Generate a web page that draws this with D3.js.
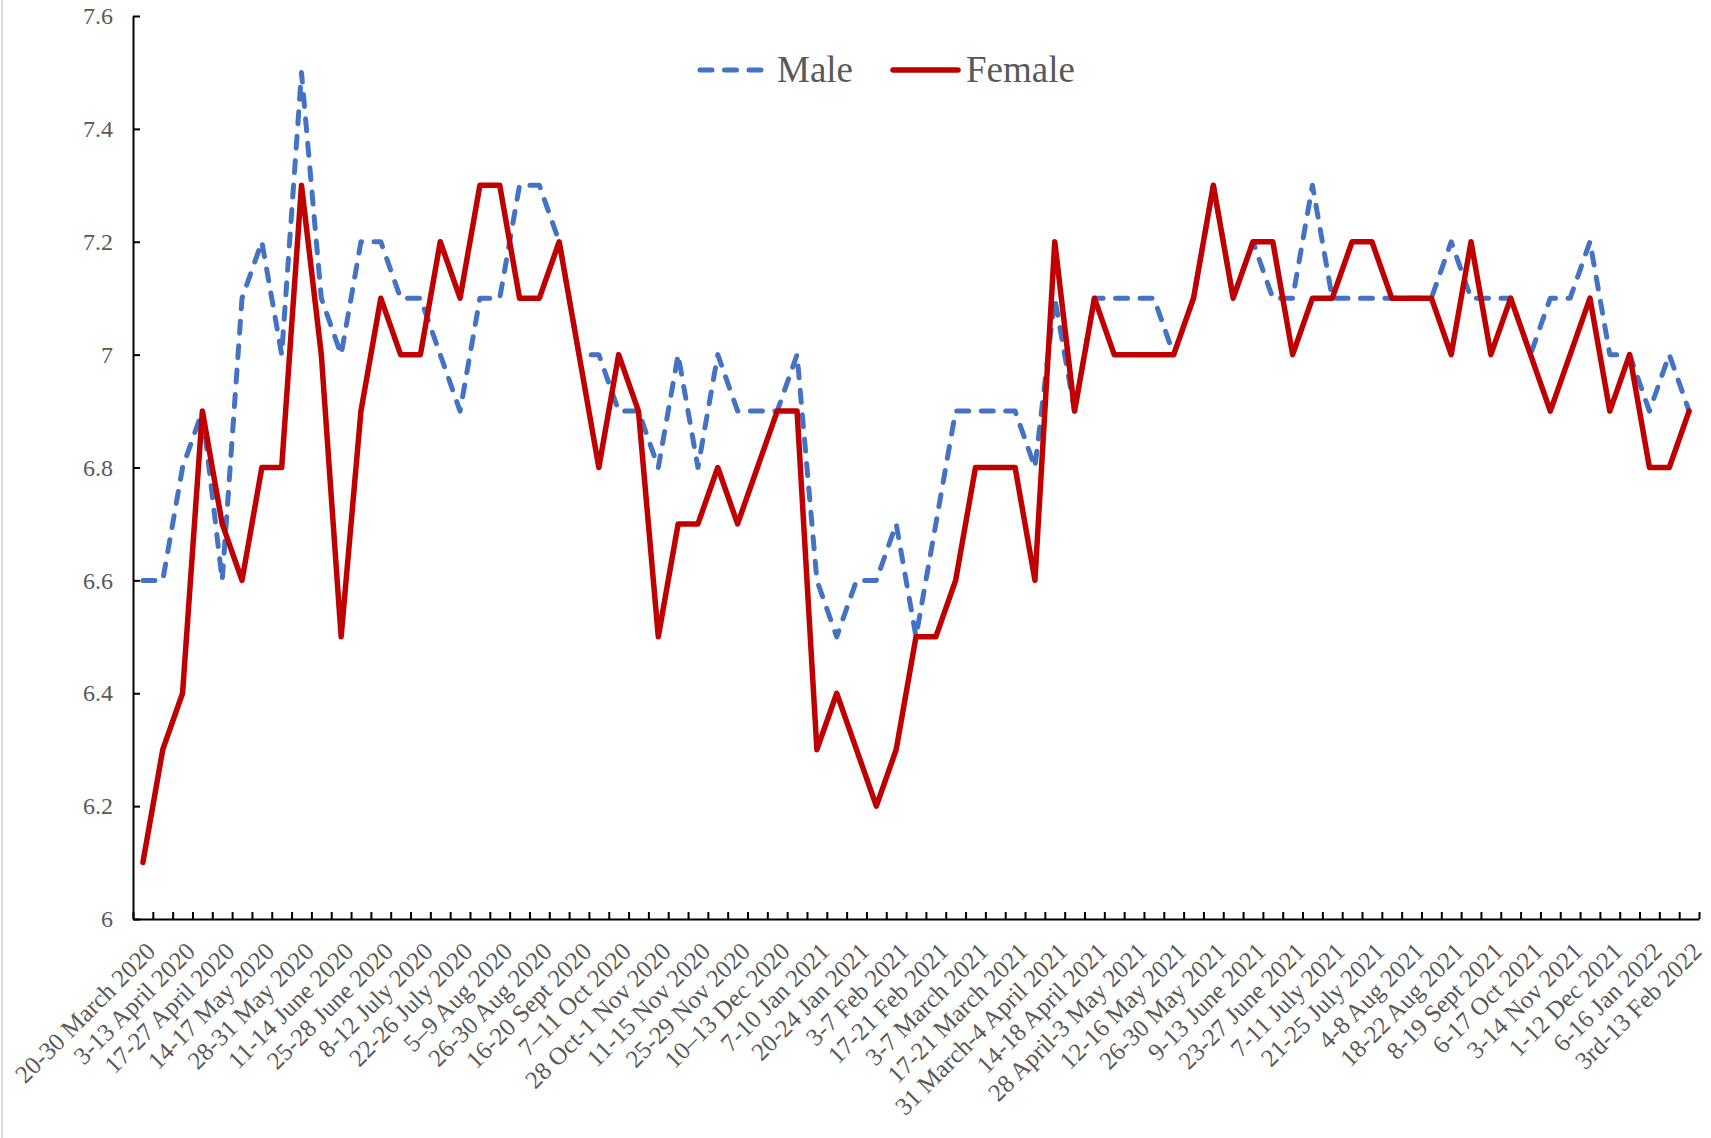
<!DOCTYPE html>
<html>
<head>
<meta charset="utf-8">
<script src="https://cdn.jsdelivr.net/npm/d3@7"></script>
<style>
  body { margin: 0; background: #fff; }
  svg { display: block; font-family: "Liberation Serif", "Times New Roman", serif; }
</style>
</head>
<body>
<svg id="chart"></svg>
<script>
// values, one per survey wave (79 waves)
const male = [
  6.6, 6.6, 6.8, 6.9, 6.6, 7.1, 7.2, 7.0, 7.5, 7.1, 7.0, 7.2, 7.2, 7.1, 7.1, 7.0,
  6.9, 7.1, 7.1, 7.3, 7.3, 7.2, 7.0, 7.0, 6.9, 6.9, 6.8, 7.0, 6.8, 7.0, 6.9, 6.9,
  6.9, 7.0, 6.6, 6.5, 6.6, 6.6, 6.7, 6.5, 6.7, 6.9, 6.9, 6.9, 6.9, 6.8, 7.1, 6.9,
  7.1, 7.1, 7.1, 7.1, 7.0, 7.1, 7.3, 7.1, 7.2, 7.1, 7.1, 7.3, 7.1, 7.1, 7.1, 7.1,
  7.1, 7.1, 7.2, 7.1, 7.1, 7.1, 7.0, 7.1, 7.1, 7.2, 7.0, 7.0, 6.9, 7.0, 6.9
];
const female = [
  6.1, 6.3, 6.4, 6.9, 6.7, 6.6, 6.8, 6.8, 7.3, 7.0, 6.5, 6.9, 7.1, 7.0, 7.0, 7.2,
  7.1, 7.3, 7.3, 7.1, 7.1, 7.2, 7.0, 6.8, 7.0, 6.9, 6.5, 6.7, 6.7, 6.8, 6.7, 6.8,
  6.9, 6.9, 6.3, 6.4, 6.3, 6.2, 6.3, 6.5, 6.5, 6.6, 6.8, 6.8, 6.8, 6.6, 7.2, 6.9,
  7.1, 7.0, 7.0, 7.0, 7.0, 7.1, 7.3, 7.1, 7.2, 7.2, 7.0, 7.1, 7.1, 7.2, 7.2, 7.1,
  7.1, 7.1, 7.0, 7.2, 7.0, 7.1, 7.0, 6.9, 7.0, 7.1, 6.9, 7.0, 6.8, 6.8, 6.9
];
// only every second wave carries a visible label
const tickLabels = [
  '20-30 March 2020', '3-13 April 2020', '17-27 April 2020', '14-17 May 2020',
  '28-31 May 2020', '11-14 June 2020', '25-28 June 2020', '8-12 July 2020',
  '22-26 July 2020', '5\u20139 Aug 2020', '26-30 Aug 2020', '16-20 Sept 2020',
  '7\u201311 Oct 2020', '28 Oct-1 Nov 2020', '11-15 Nov 2020', '25-29 Nov 2020',
  '10\u201313 Dec 2020', '7-10 Jan 2021', '20-24 Jan 2021', '3-7 Feb 2021',
  '17-21 Feb 2021', '3-7 March 2021', '17-21 March 2021', '31 March-4 April 2021',
  '14-18 April 2021', '28 April-3 May 2021', '12-16 May 2021', '26-30 May 2021',
  '9-13 June 2021', '23-27 June 2021', '7-11 July 2021', '21-25 July 2021',
  '4-8 Aug 2021', '18-22 Aug 2021', '8-19 Sept 2021', '6-17 Oct 2021',
  '3-14 Nov 2021', '1-12 Dec 2021', '6-16 Jan 2022', '3rd-13 Feb 2022'
];
const yTicks = [6, 6.2, 6.4, 6.6, 6.8, 7, 7.2, 7.4, 7.6];
const seriesNames = ['Male', 'Female'];

const width = 1711;
const height = 1138;
const plot = { left: 133, right: 1699, top: 16, bottom: 919 };
const textColor = '#595959';

const svg = d3.select('#chart')
  .attr('width', width)
  .attr('height', height);

// faint chart-area border on the left edge
svg.append('line')
  .attr('x1', 2).attr('x2', 2)
  .attr('y1', 0).attr('y2', height)
  .attr('stroke', '#d9d9d9')
  .attr('stroke-width', 2);

const waves = d3.range(male.length);

const x = d3.scaleBand()
  .domain(waves)
  .range([plot.left, plot.right]);

const xEdges = d3.scaleLinear()
  .domain([0, waves.length])
  .range([plot.left, plot.right]);

const y = d3.scaleLinear()
  .domain([6, 7.6])
  .range([plot.bottom, plot.top]);

const yAxis = svg.append('g')
  .attr('transform', `translate(${plot.left},0)`)
  .call(d3.axisLeft(y)
    .tickValues(yTicks)
    .tickSize(-7)
    .tickSizeOuter(0)
    .tickPadding(20)
    .tickFormat(d => String(d)));

const xAxis = svg.append('g')
  .attr('transform', `translate(0,${plot.bottom})`)
  .call(d3.axisBottom(xEdges)
    .tickValues(d3.range(waves.length + 1))
    .tickSize(-7)
    .tickSizeOuter(0)
    .tickFormat(''));

[yAxis, xAxis].forEach(g => {
  g.select('.domain').attr('stroke', '#000').attr('stroke-width', 2);
  g.selectAll('.tick line').attr('stroke', '#000').attr('stroke-width', 2);
});
yAxis.selectAll('.tick text')
  .attr('fill', textColor)
  .attr('font-size', 24)
  .attr('font-family', '"Liberation Serif", "Times New Roman", serif');

svg.append('g')
  .selectAll('text')
  .data(tickLabels)
  .join('text')
  .attr('transform', (d, i) => `translate(${x(i * 2) + x.bandwidth() / 2 + 8},947) rotate(-45)`)
  .attr('text-anchor', 'end')
  .attr('dominant-baseline', 'central')
  .attr('fill', textColor)
  .attr('font-size', 25)
  .text(d => d);

const lineGenerator = d3.line()
  .x((v, i) => x(i) + x.bandwidth() / 2)
  .y(v => y(v));

svg.append('path')
  .attr('d', lineGenerator(male))
  .attr('fill', 'none')
  .attr('stroke', '#4472C4')
  .attr('stroke-width', 5)
  .attr('stroke-dasharray', '12 12.5')
  .attr('stroke-linecap', 'round')
  .attr('stroke-linejoin', 'round');

svg.append('path')
  .attr('d', lineGenerator(female))
  .attr('fill', 'none')
  .attr('stroke', '#C00000')
  .attr('stroke-width', 5.5)
  .attr('stroke-linejoin', 'round')
  .attr('stroke-linecap', 'round');

// legend
const legend = svg.append('g');
legend.append('line')
  .attr('x1', 700).attr('x2', 762)
  .attr('y1', 70).attr('y2', 70)
  .attr('stroke', '#4472C4')
  .attr('stroke-width', 5)
  .attr('stroke-dasharray', '12 12.5')
  .attr('stroke-linecap', 'round');
legend.append('text')
  .attr('x', 777).attr('y', 82)
  .attr('fill', textColor)
  .attr('font-size', 37)
  .text(seriesNames[0]);
legend.append('line')
  .attr('x1', 893).attr('x2', 958)
  .attr('y1', 70).attr('y2', 70)
  .attr('stroke', '#C00000')
  .attr('stroke-width', 5.5)
  .attr('stroke-linecap', 'round');
legend.append('text')
  .attr('x', 966).attr('y', 82)
  .attr('fill', textColor)
  .attr('font-size', 37)
  .text(seriesNames[1]);
</script>
</body>
</html>
